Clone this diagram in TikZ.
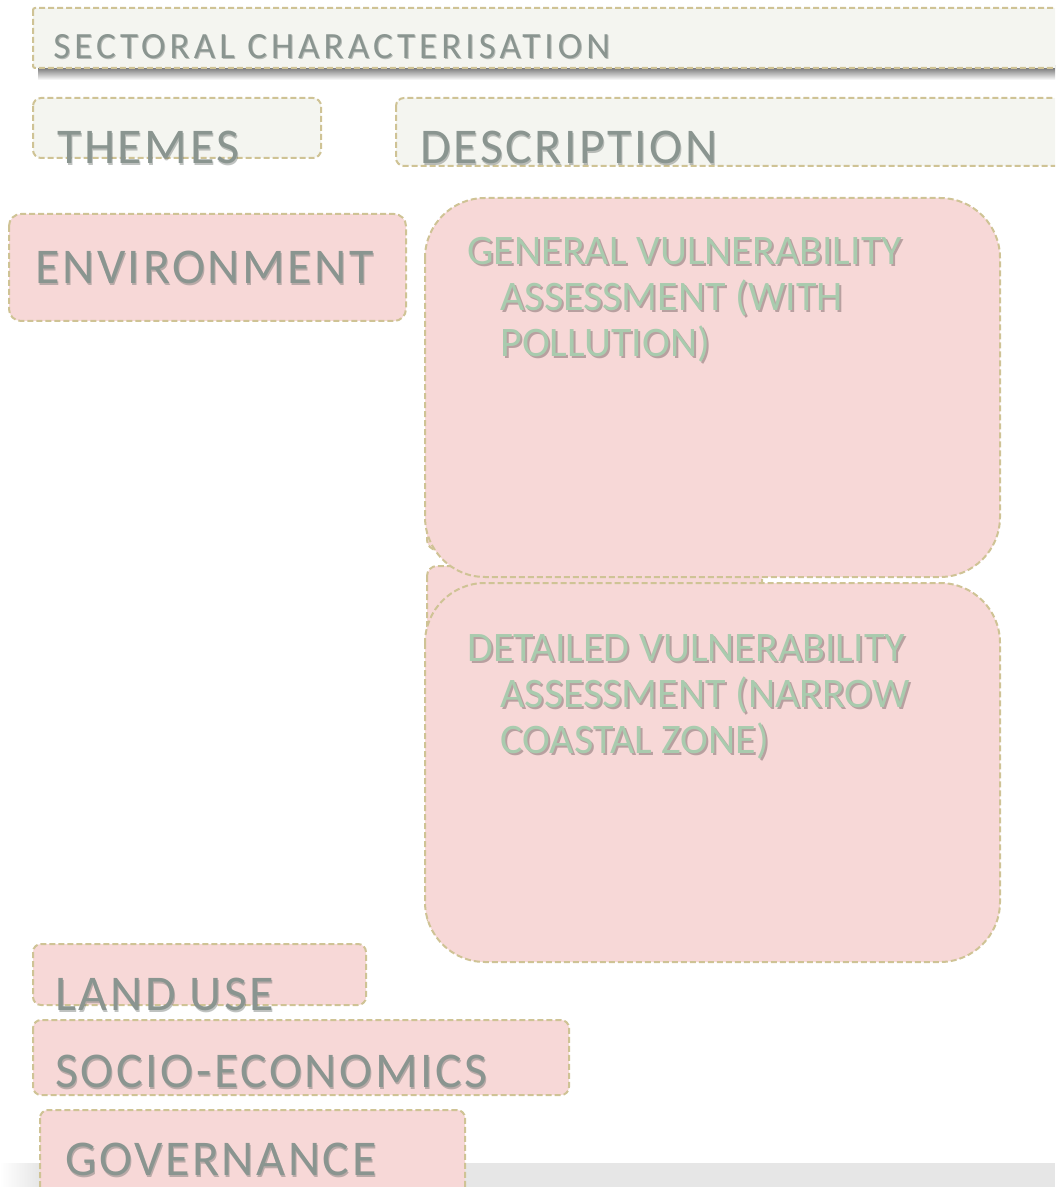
\documentclass[tikz,border=0pt]{standalone}
\usepackage{fontspec}
\setmainfont{Carlito}
\newfontfamily\labelfont[LetterSpace=5]{Carlito}
\newfontfamily\titlefont[LetterSpace=11]{Carlito}
\definecolor{framec}{HTML}{CFC395}
\definecolor{palec}{HTML}{F4F5F0}
\definecolor{pinkc}{HTML}{F7D8D7}
\definecolor{textgray}{HTML}{8A9590}
\definecolor{shadegray}{HTML}{5E6662}
\definecolor{greenc}{HTML}{A9CBAE}
\definecolor{greenshadow}{HTML}{A48E8E}
\definecolor{barc}{HTML}{E6E6E6}
\begin{document}
\begin{tikzpicture}[x=0.5pt,y=-0.5pt,
  frame/.style={draw=framec, line width=1pt, dash pattern=on 3pt off 1.5pt},
  pale/.style={frame, fill=palec},
  pinkbox/.style={frame, fill=pinkc},
  graytxt/.style={inner sep=0pt, anchor=base west, text=textgray,
    font=\labelfont\fontsize{25}{30}\selectfont},
  grayshade/.style={graytxt, text=shadegray, opacity=0.4},
  titletxt/.style={graytxt, font=\titlefont\fontsize{18.5}{20}\selectfont},
  titleshade/.style={titletxt, text=shadegray, opacity=0.4},
  greentxt/.style={inner sep=0pt, anchor=north west, align=left, text=greenc,
    font=\fontsize{21}{23}\selectfont},
  greenshade/.style={greentxt, text=greenshadow, opacity=0.75}]
\useasboundingbox (0,0) rectangle (1055,1187);
\begin{scope}
\clip (0,0) rectangle (1055,1187);

% slide footer bar
\fill[barc] (0,1163) rectangle (1055,1187);
\shade[left color=white, right color=barc] (0,1163) rectangle (40,1187);

% header band with its shadow
\shade[top color=black!60, bottom color=white] (38,66) rectangle (1060,80);
\path[pale, rounded corners=1pt] (33,8) rectangle (1075,68);
\node[titleshade] (sectshadow) at (54,60) {SECTORAL CHARACTERISATION};
\node[titletxt] (sector) at (53,59) {SECTORAL CHARACTERISATION};

% column headings
\path[pale, rounded corners=4pt] (33,98) rectangle (321,158);
\path[pale, rounded corners=4pt] (396,98) rectangle (1075,166);
\node[grayshade] (themesshadow) at (58,166) {THEMES};
\node[graytxt] (themes) at (57,164) {THEMES};
\node[grayshade] (descshadow) at (421,166) {DESCRIPTION};
\node[graytxt] (desc) at (420,164) {DESCRIPTION};

% environment theme
\path[pinkbox, rounded corners=6pt] (9,214) rectangle (406,321);
\node[grayshade] (envshadow) at (36,286) {ENVIRONMENT};
\node[graytxt] (env) at (35,284) {ENVIRONMENT};

% stacked description panels
\path[pinkbox, rounded corners=5pt] (427,320) rectangle (762,550);
\path[pinkbox, rounded corners=5pt] (427,566) rectangle (762,926);
\path[pinkbox, rounded corners=30pt] (425,198) rectangle (1000,577);
\path[pinkbox, rounded corners=30pt] (425,583) rectangle (1000,962);

\node[greenshade] (genshadow) at (469,239)
  {GENERAL VULNERABILITY\\\hspace*{16.5pt}ASSESSMENT (WITH\\\hspace*{16.5pt}POLLUTION)};
\node[greentxt] (general) at (467,237)
  {GENERAL VULNERABILITY\\\hspace*{16.5pt}ASSESSMENT (WITH\\\hspace*{16.5pt}POLLUTION)};
\node[greenshade] (detshadow) at (469,636)
  {DETAILED VULNERABILITY\\\hspace*{16.5pt}ASSESSMENT (NARROW\\\hspace*{16.5pt}COASTAL ZONE)};
\node[greentxt] (detailed) at (467,634)
  {DETAILED VULNERABILITY\\\hspace*{16.5pt}ASSESSMENT (NARROW\\\hspace*{16.5pt}COASTAL ZONE)};

% remaining themes
\path[pinkbox, rounded corners=4pt] (33,944) rectangle (366,1005);
\node[grayshade] (landshadow) at (56,1012) {LAND USE};
\node[graytxt] (land) at (55,1010) {LAND USE};

\path[pinkbox, rounded corners=4pt] (33,1020) rectangle (569,1095);
\node[grayshade] (socioshadow) at (56,1089) {SOCIO-ECONOMICS};
\node[graytxt] (socio) at (55,1087) {SOCIO-ECONOMICS};

\path[pinkbox, rounded corners=4pt] (40,1110) rectangle (465,1200);
\node[grayshade] (govshadow) at (66,1177) {GOVERNANCE};
\node[graytxt] (gov) at (65,1175) {GOVERNANCE};
\end{scope}
\end{tikzpicture}
\end{document}
